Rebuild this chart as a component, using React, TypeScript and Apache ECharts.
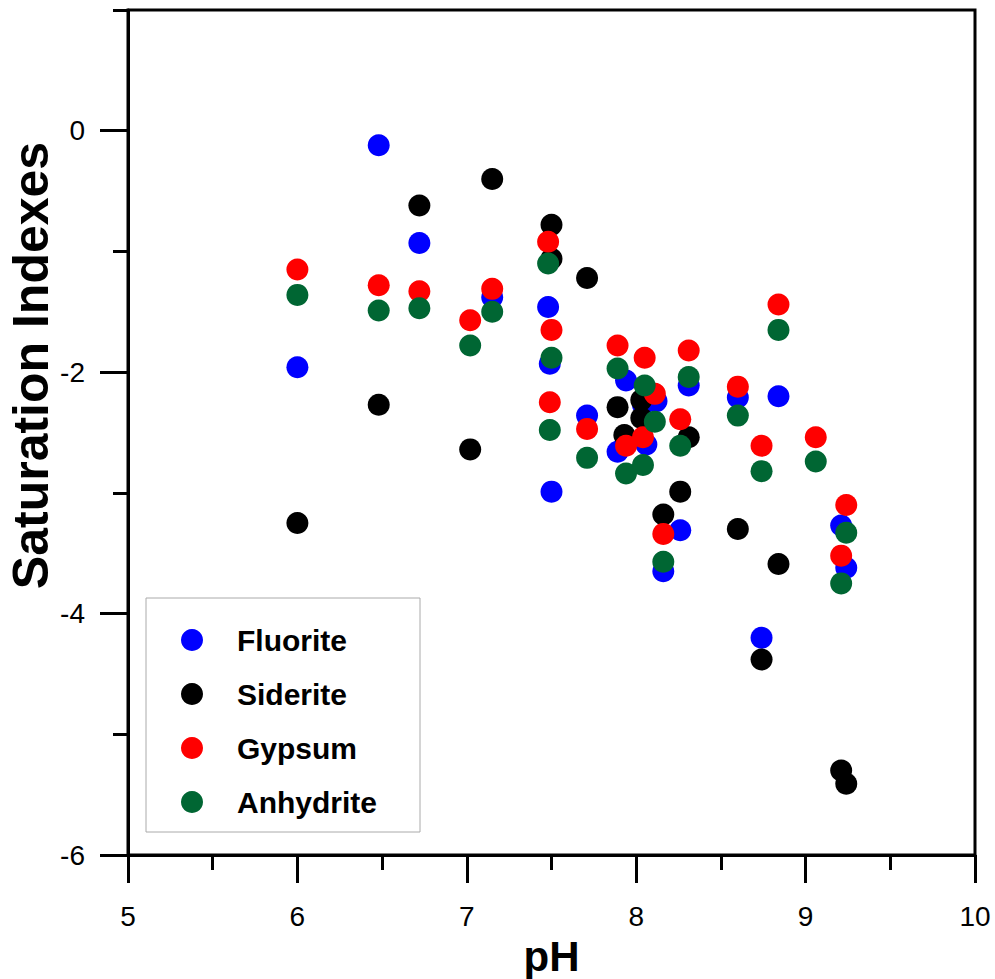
import React, { useEffect, useRef } from "react";
import * as echarts from "echarts";

const seriesNames = ["Fluorite", "Siderite", "Gypsum", "Anhydrite"];
const seriesColors = ["#0000FF", "#000000", "#FF0000", "#006633"];

const xTicks = [5, 6, 7, 8, 9, 10];
const yTickLabels = [-6, -4, -2, 0];

// [pH, saturation index]
const fluorite: number[][] = [
  [6.0, -1.96], [6.48, -0.12], [6.72, -0.93], [7.15, -1.38], [7.48, -1.46],
  [7.49, -1.93], [7.5, -2.99], [7.71, -2.36], [7.89, -2.66], [7.94, -2.07],
  [8.04, -2.27], [8.06, -2.6], [8.12, -2.24], [8.16, -3.65], [8.26, -3.31],
  [8.31, -2.11], [8.6, -2.21], [8.74, -4.2], [8.84, -2.2], [9.21, -3.27],
  [9.24, -3.62],
];
const siderite: number[][] = [
  [6.0, -3.25], [6.48, -2.27], [6.72, -0.62], [7.02, -2.64], [7.15, -0.4],
  [7.5, -0.78], [7.5, -1.06], [7.71, -1.22], [7.89, -2.29], [7.93, -2.52],
  [8.03, -2.23], [8.03, -2.38], [8.16, -3.18], [8.26, -2.99], [8.31, -2.54],
  [8.6, -3.3], [8.74, -4.38], [8.84, -3.59], [9.21, -5.3], [9.24, -5.41],
];
const gypsum: number[][] = [
  [6.0, -1.15], [6.48, -1.28], [6.72, -1.33], [7.02, -1.57], [7.15, -1.31],
  [7.48, -0.92], [7.5, -1.65], [7.49, -2.25], [7.71, -2.47], [7.89, -1.78],
  [7.94, -2.61], [8.04, -2.54], [8.05, -1.88], [8.11, -2.18], [8.16, -3.34],
  [8.26, -2.39], [8.31, -1.82], [8.6, -2.12], [8.74, -2.61], [8.84, -1.44],
  [9.06, -2.54], [9.21, -3.52], [9.24, -3.1],
];
const anhydrite: number[][] = [
  [6.0, -1.36], [6.48, -1.49], [6.72, -1.47], [7.02, -1.78], [7.15, -1.5],
  [7.48, -1.1], [7.5, -1.88], [7.49, -2.48], [7.71, -2.71], [7.89, -1.97],
  [7.94, -2.84], [8.04, -2.77], [8.05, -2.11], [8.11, -2.41], [8.16, -3.57],
  [8.26, -2.61], [8.31, -2.04], [8.6, -2.36], [8.74, -2.82], [8.84, -1.65],
  [9.06, -2.74], [9.21, -3.75], [9.24, -3.33],
];

const allData = [fluorite, siderite, gypsum, anhydrite];

const FONT = "'Liberation Sans', Arial, Helvetica, sans-serif";

export default function App() {
  const ref = useRef<HTMLDivElement>(null);

  useEffect(() => {
    document.body.style.margin = "0";
    if (!ref.current) return;
    const chart = echarts.init(ref.current, null, { renderer: "svg" });
    const line = { color: "#000", width: 3 };
    chart.setOption({
      animation: false,
      backgroundColor: "#fff",
      textStyle: { fontFamily: FONT },
      grid: {
        left: 128,
        right: 20,
        top: 10,
        bottom: 124,
        containLabel: false,
        outerBoundsMode: "none",
        show: true,
        borderColor: "#000",
        borderWidth: 3,
        backgroundColor: "transparent",
      },
      legend: {
        orient: "vertical",
        left: 146,
        top: 598,
        padding: [27, 43, 15, 35],
        itemGap: 24,
        itemWidth: 22,
        itemHeight: 22,
        icon: "circle",
        borderColor: "#aaa",
        borderWidth: 1,
        backgroundColor: "#fff",
        textStyle: {
          fontSize: 30,
          fontWeight: "bold",
          color: "#000",
          fontFamily: FONT,
          padding: [0, 0, 0, 29],
        },
        data: seriesNames,
      },
      xAxis: {
        type: "value",
        min: xTicks[0],
        max: xTicks[xTicks.length - 1],
        interval: 1,
        name: "pH",
        nameLocation: "middle",
        nameGap: 80,
        nameMoveOverlap: false,
        nameTextStyle: { fontSize: 42, fontWeight: "bold", color: "#000", fontFamily: FONT },
        axisLine: { show: true, onZero: false, lineStyle: line },
        axisTick: { show: true, inside: false, length: 28, lineStyle: line },
        minorTick: { show: true, splitNumber: 2, length: 15, lineStyle: line },
        axisLabel: { fontSize: 28, color: "#000", margin: 47, fontFamily: FONT },
        splitLine: { show: false },
        minorSplitLine: { show: false },
      },
      yAxis: [
        {
          type: "value",
          min: -6,
          max: 1,
          interval: 1,
          name: "Saturation Indexes",
          nameLocation: "middle",
          nameGap: 72,
          nameMoveOverlap: false,
          nameTextStyle: {
            fontSize: 50,
            lineHeight: 50,
            fontWeight: "bold",
            color: "#000",
            fontFamily: FONT,
            padding: [0, 0, 0, 134],
          },
          axisLine: { show: true, onZero: false, lineStyle: line },
          axisTick: { show: true, inside: false, length: 15, lineStyle: line },
          axisLabel: {
            fontSize: 28,
            color: "#000",
            margin: 43,
            fontFamily: FONT,
            formatter: (v: number) => (yTickLabels.includes(v) ? String(v) : ""),
          },
          splitLine: { show: false },
        },
        {
          type: "value",
          min: -6,
          max: 1,
          interval: 1,
          position: "left",
          axisLine: { show: false, onZero: false },
          axisTick: {
            show: true,
            inside: false,
            length: 28,
            lineStyle: line,
            customValues: yTickLabels,
          },
          axisLabel: { show: false },
          splitLine: { show: false },
        },
      ],
      series: allData.map((d, i) => ({
        name: seriesNames[i],
        type: "scatter",
        symbol: "circle",
        symbolSize: 22,
        itemStyle: { color: seriesColors[i], opacity: 1 },
        data: d,
      })),
    });
    return () => chart.dispose();
  }, []);

  return <div ref={ref} style={{ width: 995, height: 979 }} />;
}
